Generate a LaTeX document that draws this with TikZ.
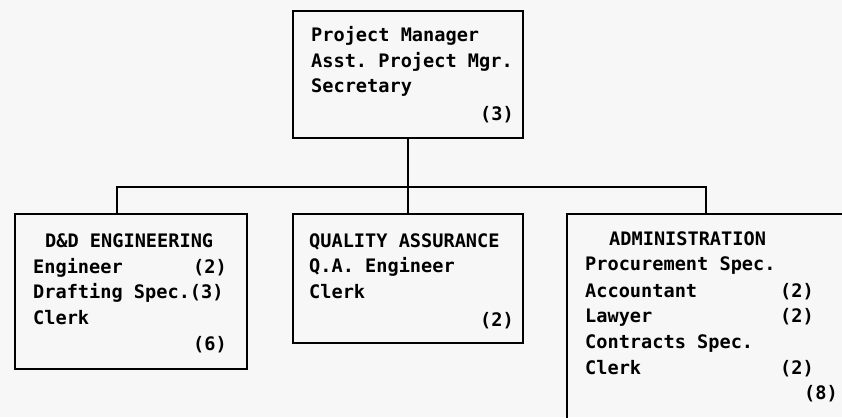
\documentclass[tikz,border=0pt]{standalone}
\usepackage{fontspec}
\setmonofont{DejaVu Sans Mono}
\begin{document}
\begin{tikzpicture}[x=1pt,y=-1pt,
  boxline/.style={draw=black,line width=1.7pt,fill=none},
  conn/.style={draw=black,line width=1.7pt},
  txt/.style={inner sep=0pt,anchor=base west,font=\ttfamily\bfseries\fontsize{18.6}{20}\selectfont},
  txtr/.style={inner sep=0pt,anchor=base east,font=\ttfamily\bfseries\fontsize{18.6}{20}\selectfont}]
\fill[white!97!black] (0,0) rectangle (842,417);
\clip (0,0) rectangle (842,417);
% boxes
\node[boxline,rectangle,minimum width=230pt,minimum height=127pt,anchor=north west,inner sep=0pt] (pm) at (292,10) {};
\node[boxline,rectangle,minimum width=232pt,minimum height=155pt,anchor=north west,inner sep=0pt] (eng) at (14,213) {};
\node[boxline,rectangle,minimum width=230pt,minimum height=129pt,anchor=north west,inner sep=0pt] (qa) at (292,213) {};
\node[boxline,rectangle,minimum width=300pt,minimum height=230pt,anchor=north west,inner sep=0pt] (adm) at (566,213) {};
% connectors
\coordinate (bus) at (407,187);
\coordinate (engtop) at (117,213);
\coordinate (admtop) at (706,213);
\draw[conn] (pm.south) -- (qa.north);
\draw[conn] (engtop) |- (bus) -| (admtop);
% top box text
\node[txt] (pm1) at (311,42) {Project Manager};
\node[txt] (pm2) at (311,68) {Asst. Project Mgr.};
\node[txt] (pm3) at (311,93) {Secretary};
\node[txtr] (pmn) at (514,121) {(3)};
% engineering
\node[txt] (e0) at (45,247) {D\&D ENGINEERING};
\node[txt] (e1) at (33,273) {Engineer};
\node[txtr] (e1n) at (227,273) {(2)};
\node[txt] (e2) at (33,298) {Drafting Spec.(3)};
\node[txt] (e3) at (33,324) {Clerk};
\node[txtr] (en) at (227,350) {(6)};
% quality assurance
\node[txt] (q0) at (309,247) {QUALITY ASSURANCE};
\node[txt] (q1) at (309,272) {Q.A. Engineer};
\node[txt] (q2) at (309,298) {Clerk};
\node[txtr] (qn) at (514,326) {(2)};
% administration
\node[txt] (a0) at (609,245) {ADMINISTRATION};
\node[txt] (a1) at (585,270) {Procurement Spec.};
\node[txt] (a2) at (585,297) {Accountant};
\node[txtr] (a2n) at (814,297) {(2)};
\node[txt] (a3) at (585,322) {Lawyer};
\node[txtr] (a3n) at (814,322) {(2)};
\node[txt] (a4) at (585,348) {Contracts Spec.};
\node[txt] (a5) at (585,374) {Clerk};
\node[txtr] (a5n) at (814,374) {(2)};
\node[txtr] (an) at (838,399) {(8)};
\end{tikzpicture}
\end{document}
